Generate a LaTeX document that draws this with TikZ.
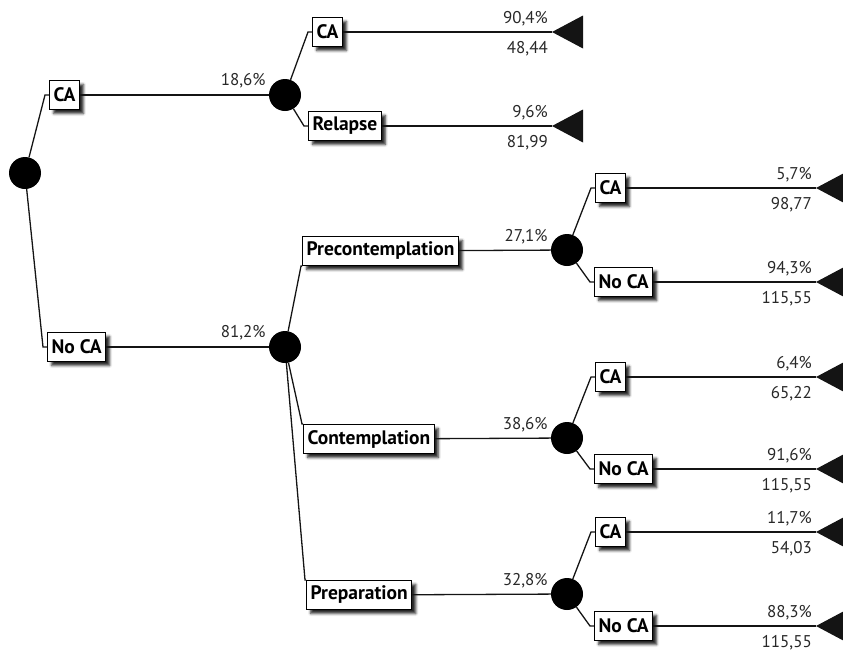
\documentclass[tikz,border=0pt]{standalone}
\usepackage{fontspec}
\setmainfont{PT Sans}
\usetikzlibrary{positioning,calc,shadows.blur}
\definecolor{treedark}{RGB}{20,20,20}
\definecolor{treetext}{RGB}{40,40,40}
\tikzset{
  tree box/.style={
    draw=black,
    fill=white,
    line width=1.2pt,
    inner xsep=4pt,
    inner ysep=0pt,
    minimum height=29pt,
    anchor=west,
    font=\fontsize{19.5}{21}\selectfont\bfseries,
    blur shadow={shadow xshift=4pt, shadow yshift=-4pt, shadow blur radius=2.5pt, shadow opacity=85},
  },
  tree chance/.style={
    circle,
    fill=black,
    minimum size=32pt,
    inner sep=0pt,
  },
  tree prob/.style={
    font=\fontsize{17}{19}\selectfont,
    text=treetext,
    inner sep=0pt,
  },
  tree link/.style={
    line width=1.3pt,
    draw=treedark,
  },
}
\newcommand{\treeleaf}[4]{%
  \coordinate (#1) at #2;
  \fill[treedark] (#1) -- ++(31,-16.5) -- ++(0,33) -- cycle;
  \node[tree prob, anchor=base east] at ([xshift=-4pt,yshift=9pt]#1) {#3};
  \node[tree prob, anchor=base east] at ([xshift=-4pt,yshift=-21pt]#1) {#4};
}

\begin{document}
\begin{tikzpicture}[x=1pt,y=-1pt]
  \useasboundingbox (0,0) rectangle (843,651);
  % first split
  \node[tree chance] (root) at (25,173) {};
  \node[tree box] (ca) at (49,95) {CA};
  \node[tree box] (noca) at (47,347) {No CA};
  \node[tree chance] (cca) at (285,95) {};
  \node[tree chance] (cnoca) at (285,347) {};
  \draw[tree link] (root) -- ([xshift=-4pt]ca.west) -- (ca.west);
  \draw[tree link] (root) -- ([xshift=-4pt]noca.west) -- (noca.west);
  \draw[tree link] (ca) -- (cca);
  \draw[tree link] (noca) -- (cnoca);
  \node[tree prob, anchor=base east] at ([xshift=-3pt,yshift=10pt]cca.west) {18,6\%};
  \node[tree prob, anchor=base east] at ([xshift=-3pt,yshift=10pt]cnoca.west) {81,2\%};

  % CA branch
  \node[tree box] (caca) at (312,32) {CA};
  \node[tree box] (carel) at (308,126) {Relapse};
  \draw[tree link] (cca) -- ([xshift=-4pt]caca.west) -- (caca.west);
  \draw[tree link] (cca) -- ([xshift=-4pt]carel.west) -- (carel.west);
  \treeleaf{tcaca}{(552,32)}{90,4\%}{48,44}
  \treeleaf{tcarel}{(552,126)}{9,6\%}{81,99}
  \draw[tree link] (caca) -- (tcaca);
  \draw[tree link] (carel) -- (tcarel);

  % No CA branch: stages
  \node[tree box] (pre) at (302,251) {Precontemplation};
  \node[tree box] (con) at (303,439) {Contemplation};
  \node[tree box] (prep) at (306,595) {Preparation};
  \draw[tree link] (cnoca) -- ([xshift=-1pt]pre.south west) -- (pre.south west);
  \draw[tree link] (cnoca) -- ([xshift=-1pt]con.north west) -- (con.north west);
  \draw[tree link] (cnoca) -- ([xshift=-1pt]prep.north west) -- (prep.north west);
  \node[tree chance] (cpre) at (567,250) {};
  \node[tree chance] (ccon) at (567,438) {};
  \node[tree chance] (cprep) at (567,594) {};
  \draw[tree link] (pre) -- (cpre);
  \draw[tree link] (con) -- (ccon);
  \draw[tree link] (prep) -- (cprep);
  \node[tree prob, anchor=base east] at ([xshift=-3pt,yshift=9pt]cpre.west) {27,1\%};
  \node[tree prob, anchor=base east] at ([xshift=-3pt,yshift=9pt]ccon.west) {38,6\%};
  \node[tree prob, anchor=base east] at ([xshift=-3pt,yshift=9pt]cprep.west) {32,8\%};

  % outcomes per stage
  \node[tree box] (preca) at (595,188) {CA};
  \node[tree box] (prenoca) at (594,282) {No CA};
  \node[tree box] (conca) at (595,377) {CA};
  \node[tree box] (connoca) at (594,469) {No CA};
  \node[tree box] (prepca) at (595,532) {CA};
  \node[tree box] (prepnoca) at (594,626) {No CA};
  \foreach \c/\b in {cpre/preca, cpre/prenoca, ccon/conca, ccon/connoca, cprep/prepca, cprep/prepnoca}
    \draw[tree link] (\c) -- ([xshift=-4pt]\b.west) -- (\b.west);
  \treeleaf{tpreca}{(816,188)}{5,7\%}{98,77}
  \treeleaf{tprenoca}{(816,282)}{94,3\%}{115,55}
  \treeleaf{tconca}{(816,377)}{6,4\%}{65,22}
  \treeleaf{tconnoca}{(816,469)}{91,6\%}{115,55}
  \treeleaf{tprepca}{(816,532)}{11,7\%}{54,03}
  \treeleaf{tprepnoca}{(816,626)}{88,3\%}{115,55}
  \foreach \b in {preca, prenoca, conca, connoca, prepca, prepnoca}
    \draw[tree link] (\b) -- (t\b);
\end{tikzpicture}
\end{document}
